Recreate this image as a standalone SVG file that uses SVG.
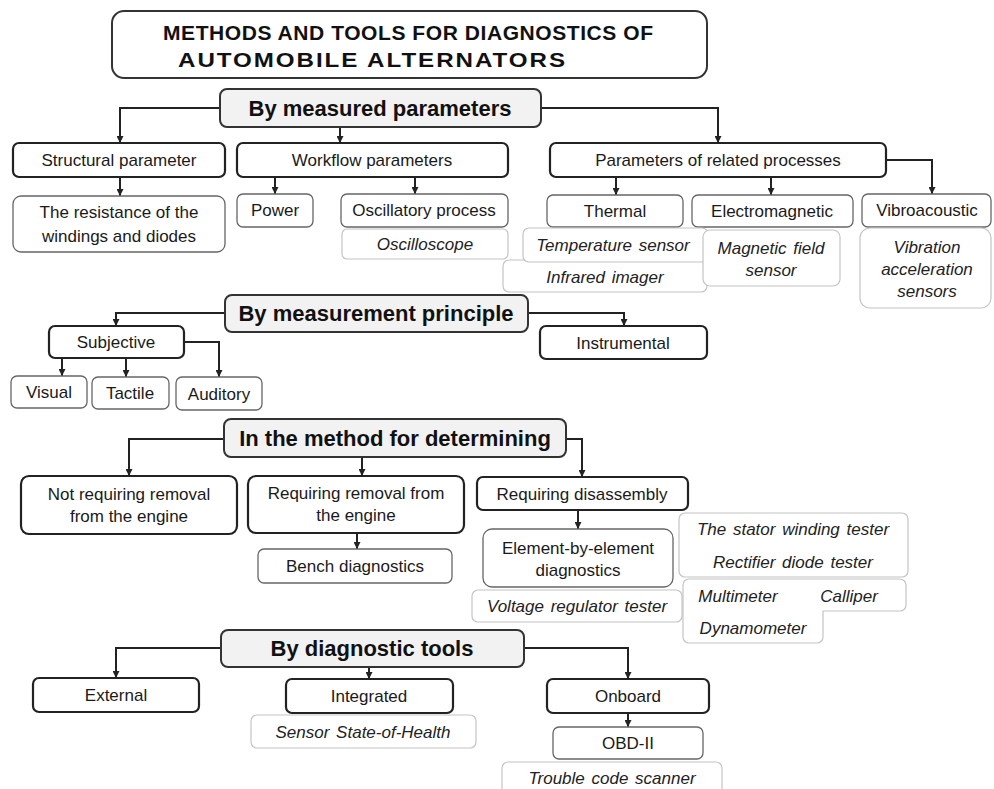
<svg xmlns="http://www.w3.org/2000/svg" width="994" height="789" viewBox="0 0 994 789">
<style>
.title{fill:#fff;stroke:#333;stroke-width:2}
.cat{fill:#f2f2f2;stroke:#333;stroke-width:2}
.l2{fill:#fff;stroke:#222;stroke-width:2.2}
.l3{fill:#fff;stroke:#666;stroke-width:1.3}
.tool{fill:#fff;stroke:#c4c4c4;stroke-width:1.2}
.conn path{fill:none;stroke:#222;stroke-width:2;marker-end:url(#ah)}
text{font-family:"Liberation Sans",Arial,sans-serif;fill:#1a1a1a;text-anchor:middle}
.tt{font-size:21px;font-weight:bold;text-anchor:start;fill:#111}
.h{font-size:22px;font-weight:bold;fill:#111}
.t{font-size:17px}
.i{font-size:17px;font-style:italic;fill:#222;word-spacing:2px}
</style>
<defs>
<marker id="ah" viewBox="0 0 10 10" refX="10" refY="5" markerWidth="7" markerHeight="7" markerUnits="userSpaceOnUse" orient="auto">
<path d="M0,0 L10,5 L0,10 Z" fill="#222"/>
</marker>
</defs>

<g id="title">
<rect class="title" x="112" y="11" width="595" height="67" rx="12"/>
<text class="tt" x="163" y="40" textLength="490" lengthAdjust="spacing">METHODS AND TOOLS FOR DIAGNOSTICS OF</text>
<text class="tt" x="154.8" y="67" transform="scale(1.15,1)" textLength="336.5" lengthAdjust="spacing">AUTOMOBILE ALTERNATORS</text>
</g>

<g class="conn" id="connectors">
<path d="M220,108 H120 V143"/>
<path d="M340,127 V143"/>
<path d="M541,108 H718 V143"/>
<path d="M120,177 V196"/>
<path d="M275,177 V194"/>
<path d="M415,177 V194"/>
<path d="M616,177 V195"/>
<path d="M771,177 V195"/>
<path d="M886,160 H932 V194"/>
<path d="M225,313 H116 V326"/>
<path d="M528,313 H624 V326"/>
<path d="M62,358 V376"/>
<path d="M126,358 V377"/>
<path d="M184,342 H219 V377"/>
<path d="M224,439 H129 V476"/>
<path d="M362,457 V476"/>
<path d="M566,439 H582 V477"/>
<path d="M357,533 V549"/>
<path d="M578,510 V529"/>
<path d="M221,648 H116 V678"/>
<path d="M369,667 V679"/>
<path d="M524,648 H628 V679"/>
<path d="M628,713 V727"/>
</g>

<g id="by-measured-parameters"><rect class="cat" x="220" y="89" width="321" height="38" rx="7"/><text class="h" x="380" y="116">By measured parameters</text></g>
<g id="structural"><rect class="l2" x="13" y="143" width="212" height="34" rx="6"/><text class="t" x="119" y="166">Structural parameter</text></g>
<g id="workflow"><rect class="l2" x="237" y="143" width="271" height="34" rx="6"/><text class="t" x="372" y="166">Workflow parameters</text></g>
<g id="related"><rect class="l2" x="550" y="143" width="336" height="34" rx="6"/><text class="t" x="718" y="166">Parameters of related processes</text></g>
<g id="resistance"><rect class="l3" x="13" y="196" width="212" height="56" rx="8"/><text class="t" x="119" y="218">The resistance of the</text><text class="t" x="119" y="242">windings and diodes</text></g>
<g id="power"><rect class="l3" x="237" y="194" width="76" height="33" rx="6"/><text class="t" x="275" y="216">Power</text></g>
<g id="oscillatory"><rect class="l3" x="341" y="194" width="167" height="33" rx="6"/><text class="t" x="424" y="216">Oscillatory process</text></g>
<g id="oscilloscope"><rect class="tool" x="342" y="229" width="166" height="30" rx="5"/><text class="i" x="425" y="250">Oscilloscope</text></g>
<g id="thermal"><rect class="l3" x="547" y="195" width="136" height="32" rx="6"/><text class="t" x="615" y="217">Thermal</text></g>
<g id="electromagnetic"><rect class="l3" x="692" y="195" width="161" height="32" rx="6"/><text class="t" x="772" y="217">Electromagnetic</text></g>
<g id="vibroacoustic"><rect class="l3" x="862" y="194" width="129" height="33" rx="6"/><text class="t" x="927" y="216">Vibroacoustic</text></g>
<g id="infrared"><rect class="tool" x="503" y="260" width="204" height="32" rx="6"/><text class="i" x="605" y="283">Infrared imager</text></g>
<g id="temperature"><rect class="tool" x="523" y="228" width="185" height="34" rx="6"/><text class="i" x="613" y="251">Temperature sensor</text></g>
<g id="magnetic"><rect class="tool" x="703" y="230" width="137" height="56" rx="7"/><text class="i" x="771" y="254">Magnetic field</text><text class="i" x="771" y="276">sensor</text></g>
<g id="vibration"><rect class="tool" x="860" y="228" width="131" height="80" rx="10"/><text class="i" x="927" y="253">Vibration</text><text class="i" x="927" y="275">acceleration</text><text class="i" x="927" y="297">sensors</text></g>

<g id="by-measurement-principle"><rect class="cat" x="225" y="295" width="303" height="37" rx="7"/><text class="h" x="376" y="321">By measurement principle</text></g>
<g id="subjective"><rect class="l2" x="49" y="326" width="135" height="32" rx="6"/><text class="t" x="116" y="348">Subjective</text></g>
<g id="instrumental"><rect class="l2" x="540" y="326" width="167" height="33" rx="6"/><text class="t" x="623" y="349">Instrumental</text></g>
<g id="visual"><rect class="l3" x="11" y="376" width="76" height="32" rx="6"/><text class="t" x="49" y="398">Visual</text></g>
<g id="tactile"><rect class="l3" x="92" y="377" width="77" height="32" rx="6"/><text class="t" x="130" y="399">Tactile</text></g>
<g id="auditory"><rect class="l3" x="176" y="377" width="86" height="33" rx="6"/><text class="t" x="219" y="400">Auditory</text></g>

<g id="method-determining"><rect class="cat" x="224" y="419" width="342" height="38" rx="7"/><text class="h" x="395" y="446">In the method for determining</text></g>
<g id="not-requiring"><rect class="l2" x="21" y="476" width="216" height="58" rx="8"/><text class="t" x="129" y="500">Not requiring removal</text><text class="t" x="129" y="522">from the engine</text></g>
<g id="requiring-removal"><rect class="l2" x="248" y="476" width="216" height="57" rx="8"/><text class="t" x="356" y="499">Requiring removal from</text><text class="t" x="356" y="521">the engine</text></g>
<g id="requiring-disassembly"><rect class="l2" x="477" y="477" width="211" height="33" rx="6"/><text class="t" x="582" y="500">Requiring disassembly</text></g>
<g id="bench"><rect class="l3" x="258" y="549" width="194" height="34" rx="6"/><text class="t" x="355" y="572">Bench diagnostics</text></g>
<g id="element"><rect class="l3" x="483" y="529" width="190" height="58" rx="9"/><text class="t" x="578" y="554">Element-by-element</text><text class="t" x="578" y="576">diagnostics</text></g>
<g id="voltage"><rect class="tool" x="472" y="590" width="210" height="32" rx="6"/><text class="i" x="577" y="612">Voltage regulator tester</text></g>
<g id="stator-rectifier"><rect class="tool" x="679" y="513" width="229" height="64" rx="6"/><text class="i" x="793" y="535">The stator winding tester</text><text class="i" x="793" y="568">Rectifier diode tester</text></g>
<g id="multimeter-calliper-dynamometer"><path class="tool" d="M689,579 H900 A6,6 0 0 1 906,585 V605 A6,6 0 0 1 900,611 H823 V637 A6,6 0 0 1 817,643 H689 A6,6 0 0 1 683,637 V585 A6,6 0 0 1 689,579 Z"/><text class="i" x="738" y="602">Multimeter</text><text class="i" x="849" y="602">Calliper</text><text class="i" x="753" y="634">Dynamometer</text></g>

<g id="by-diagnostic-tools"><rect class="cat" x="221" y="630" width="303" height="37" rx="7"/><text class="h" x="372" y="656">By diagnostic tools</text></g>
<g id="external"><rect class="l2" x="33" y="678" width="166" height="34" rx="6"/><text class="t" x="116" y="701">External</text></g>
<g id="integrated"><rect class="l2" x="286" y="679" width="167" height="34" rx="6"/><text class="t" x="369" y="702">Integrated</text></g>
<g id="sensor-soh"><rect class="tool" x="251" y="715" width="225" height="33" rx="6"/><text class="i" x="363" y="738">Sensor State-of-Health</text></g>
<g id="onboard"><rect class="l2" x="547" y="679" width="162" height="34" rx="6"/><text class="t" x="628" y="702">Onboard</text></g>
<g id="obd"><rect class="l3" x="553" y="727" width="150" height="32" rx="6"/><text class="t" x="628" y="749">OBD-II</text></g>
<g id="trouble"><rect class="tool" x="502" y="762" width="220" height="40" rx="6"/><text class="i" x="612" y="784">Trouble code scanner</text></g>
</svg>
